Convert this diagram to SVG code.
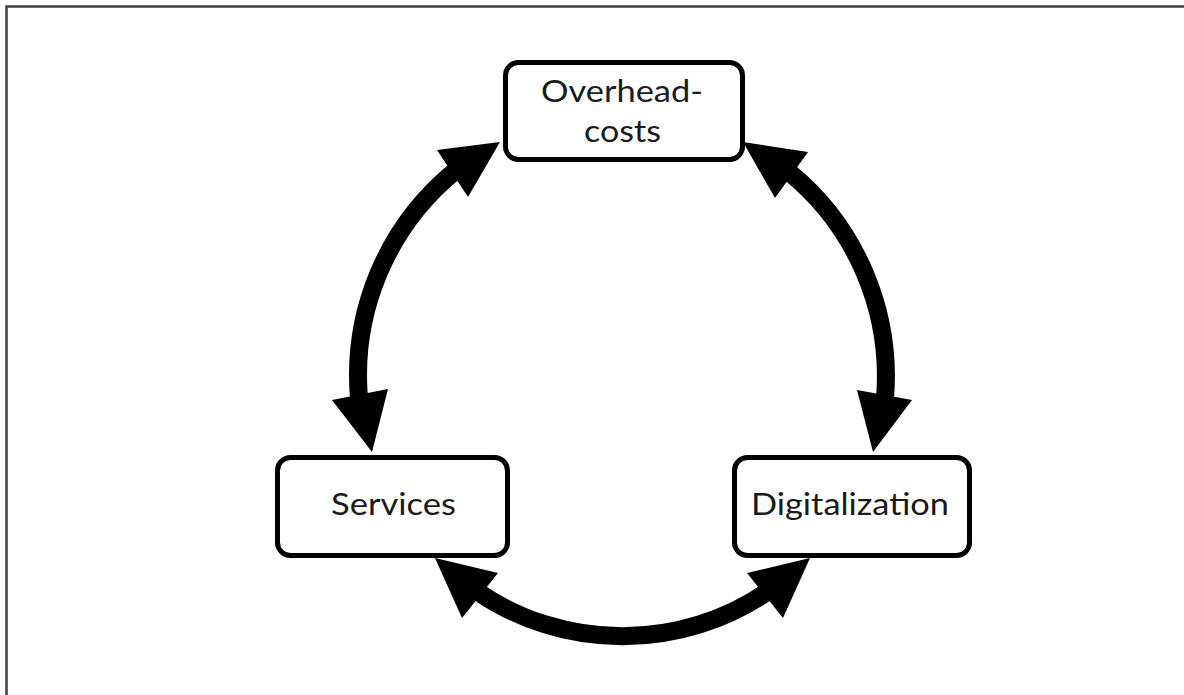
<svg xmlns="http://www.w3.org/2000/svg" width="1184" height="695" viewBox="0 0 1184 695">
  <style>
    .box { fill: #ffffff; stroke: #000000; stroke-width: 5; }
    .label { font-family: Lato, "Open Sans", "Liberation Sans", sans-serif; font-size: 31px; fill: #1a1a1a; text-anchor: middle; }
    .shaft { fill: none; stroke: #000000; stroke-width: 18; }
    .head { fill: #000000; }
  </style>
  <rect x="0" y="0" width="1184" height="695" fill="#ffffff"/>
  <!-- page frame -->
  <path d="M6.5,695 V6.5 H1184" fill="none" stroke="#404040" stroke-width="2.5"/>

  <g id="connectors">
    <!-- Overhead-costs <-> Services -->
    <path class="shaft" d="M455,171 A264,264 0 0 0 359,398"/>
    <polygon class="head" points="500,142 437,150 468,197"/>
    <polygon class="head" points="372,452 332,400 388,389"/>
    <!-- Overhead-costs <-> Digitalization -->
    <path class="shaft" d="M789,172 A264,264 0 0 1 885,398"/>
    <polygon class="head" points="743,142 808,152 775,198"/>
    <polygon class="head" points="873,452 857,390 912,400"/>
    <!-- Services <-> Digitalization -->
    <path class="shaft" d="M478,592 A258,258 0 0 0 767,592"/>
    <polygon class="head" points="435,558 498,573 462,618"/>
    <polygon class="head" points="810,558 747,573 783,618"/>
  </g>

  <g id="node-overhead">
    <rect class="box" x="505.5" y="62.5" width="237" height="97" rx="13"/>
    <text class="label" x="622" y="102" textLength="162" lengthAdjust="spacingAndGlyphs">Overhead-</text>
    <text class="label" x="622.5" y="142" textLength="77" lengthAdjust="spacingAndGlyphs">costs</text>
  </g>

  <g id="node-services">
    <rect class="box" x="277.5" y="457.5" width="230" height="98" rx="13"/>
    <text class="label" x="393.5" y="515" textLength="125" lengthAdjust="spacingAndGlyphs">Services</text>
  </g>

  <g id="node-digitalization">
    <rect class="box" x="734.5" y="457.5" width="235" height="98" rx="13"/>
    <text class="label" x="850" y="515" textLength="198" lengthAdjust="spacingAndGlyphs">Digitalization</text>
  </g>
</svg>
